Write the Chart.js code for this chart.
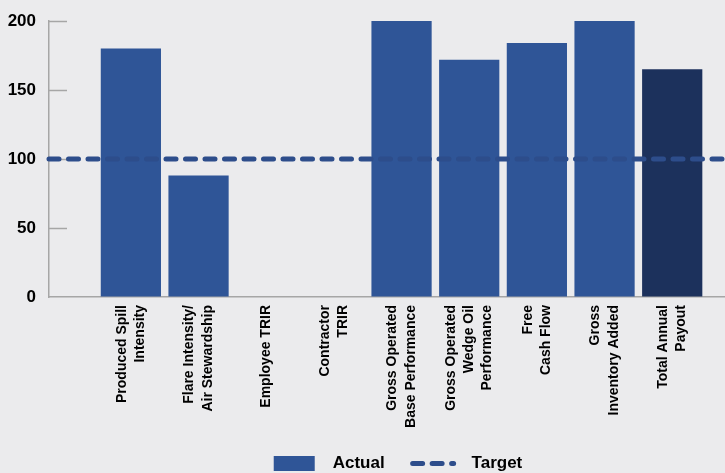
<!DOCTYPE html>
<html>
<head>
<meta charset="utf-8">
<script src="https://cdn.jsdelivr.net/npm/chart.js@4.4.1/dist/chart.umd.min.js"></script>
<style>
  body { margin: 0; background: #ebebed; }
  #wrap { width: 725px; height: 473px; }
</style>
</head>
<body>
<div id="wrap"><canvas id="payout"></canvas></div>
<script>
const categories = [
  ["Produced Spill", "Intensity"],
  ["Flare Intensity/", "Air Stewardship"],
  ["Employee TRIR"],
  ["Contractor", "TRIR"],
  ["Gross Operated", "Base Performance"],
  ["Gross Operated", "Wedge Oil", "Performance"],
  ["Free", "Cash Flow"],
  ["Gross", "Inventory Added"],
  ["Total Annual", "Payout"]
]
const actual = [180, 88, 0, 0, 200, 172, 184, 200, 165]
const target = 100
const yTicks = [0, 50, 100, 150, 200]

// x range of the plot, in category units (plot runs past the bars on both sides)
const xMin = -1.21
const xMax = 8.78

const blue = "#2f5597"
const navy = "#1c315c"
const targetColor = "#2d4d8b"
const axisColor = "#a6a6a6"
const labelSize = 14
const labelLine = 18.2

Chart.defaults.font.family = "'Liberation Sans', Arial, sans-serif"
Chart.defaults.font.weight = "bold"
Chart.defaults.color = "#000"

// short tick marks drawn inside the plot on the y axis
const innerTicks = {
  id: "innerTicks",
  beforeDatasetsDraw(chart) {
    const ctx = chart.ctx
    const y = chart.scales.y
    const left = chart.chartArea.left
    ctx.save()
    ctx.strokeStyle = axisColor
    ctx.lineWidth = 1.5
    y.ticks.forEach((t) => {
      if (t.value === 0) return
      const py = Math.round(y.getPixelForValue(t.value)) + 0.5
      ctx.beginPath()
      ctx.moveTo(left, py)
      ctx.lineTo(left + 18, py)
      ctx.stroke()
    })
    ctx.restore()
  }
}

// center the multi-line rotated labels on their bar, nudge the legend right
const tidyLabels = {
  id: "tidyLabels",
  afterLayout(chart) {
    chart.legend.left += 11
    chart.legend.right += 11
  },
  beforeDraw(chart) {
    const x = chart.scales.x
    const items = x.getLabelItems(chart.chartArea)
    items.forEach((item) => {
      if (item._centered) return
      const n = Array.isArray(item.label) ? item.label.length : 1
      item.options.translation[0] -= ((n - 1) / 2) * labelLine
      item._centered = true
    })
  }
}

new Chart(document.getElementById("payout"), {
  type: "bar",
  data: {
    datasets: [
      {
        label: "Actual",
        data: actual.map((v, i) => ({ x: i, y: v })),
        backgroundColor: actual.map((v, i) => (i === actual.length - 1 ? navy : blue)),
        barPercentage: 0.89,
        categoryPercentage: 1,
        order: 1
      },
      {
        type: "line",
        label: "Target",
        data: [xMin, xMax].map((x) => ({ x: x, y: target })),
        borderColor: targetColor,
        borderWidth: 5,
        borderDash: [10, 9.5],
        borderCapStyle: "round",
        pointRadius: 0,
        clip: false,
        order: 0
      }
    ]
  },
  options: {
    responsive: true,
    maintainAspectRatio: false,
    animation: false,
    layout: { padding: { top: 21, left: 8, right: 0, bottom: -9 } },
    plugins: {
      tooltip: { enabled: false },
      legend: {
        position: "bottom",
        fullSize: false,
        labels: {
          font: { size: 17, weight: "bold" },
          usePointStyle: true,
          pointStyleWidth: 41,
          boxHeight: 15,
          padding: 28,
          generateLabels: (chart) =>
            chart.data.datasets.map((ds, i) => ({
              text: "  " + ds.label,
              datasetIndex: i,
              fillStyle: ds.type === "line" ? "transparent" : blue,
              strokeStyle: ds.type === "line" ? ds.borderColor : blue,
              lineWidth: ds.type === "line" ? ds.borderWidth : 0,
              lineDash: ds.type === "line" ? ds.borderDash : [],
              lineCap: "round",
              pointStyle: ds.type === "line" ? "line" : "rect",
              fontColor: "#000"
            }))
        }
      }
    },
    scales: {
      x: {
        type: "linear",
        offset: false,
        min: xMin,
        max: xMax,
        afterBuildTicks: (scale) => {
          scale.ticks = categories.map((c, i) => ({ value: i }))
        },
        afterFit: (scale) => {
          scale.height = 130
          scale.paddingLeft = 0
          scale.paddingRight = 0
        },
        grid: { drawOnChartArea: false, drawTicks: false, offset: false },
        border: { color: axisColor, width: 1.5 },
        ticks: {
          callback: (v) => categories[v],
          autoSkip: false,
          maxRotation: 90,
          minRotation: 90,
          padding: 8,
          font: { size: labelSize, weight: "bold", lineHeight: labelLine / labelSize }
        }
      },
      y: {
        min: 0,
        max: 200,
        afterBuildTicks: (scale) => {
          scale.ticks = yTicks.map((v) => ({ value: v }))
        },
        afterFit: (scale) => {
          scale.width = 41
          scale.paddingTop = 0
          scale.paddingBottom = 0
        },
        grid: { drawOnChartArea: false, drawTicks: false },
        border: { color: axisColor, width: 1.5 },
        ticks: {
          padding: 13,
          font: { size: 17, weight: "bold" }
        }
      }
    }
  },
  plugins: [innerTicks, tidyLabels]
})
</script>
</body>
</html>
